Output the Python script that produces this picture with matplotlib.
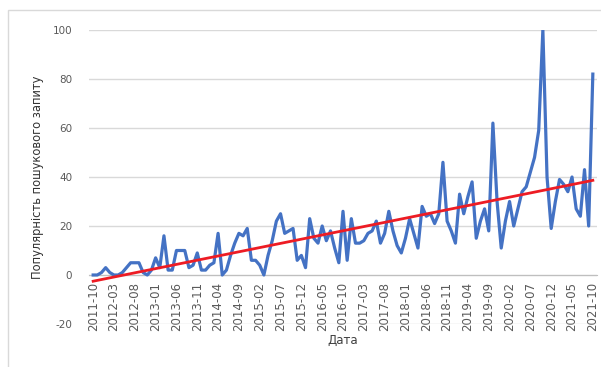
#!/usr/bin/env python3
"""Search popularity by month with a linear trend line (Excel-style line chart)."""

import numpy as np
import pandas as pd
import matplotlib
matplotlib.use("Agg")
import matplotlib.pyplot as plt
from matplotlib.patches import Rectangle

# monthly values, 2011-10 .. 2021-10
months = pd.period_range("2011-10", "2021-10", freq="M").strftime("%Y-%m").tolist()
popularity = [
    0, 0, 1, 3, 1, 0, 0, 1, 3, 5,
    5, 5, 1, 0, 2, 7, 3, 16, 2, 2,
    10, 10, 10, 3, 4, 9, 2, 2, 4, 5,
    17, 0, 2, 8, 13, 17, 16, 19, 6, 6,
    4, 0, 8, 14, 22, 25, 17, 18, 19, 6,
    8, 3, 23, 15, 13, 20, 14, 18, 11, 5,
    26, 6, 23, 13, 13, 14, 17, 18, 22, 13,
    17, 26, 18, 12, 9, 15, 23, 17, 11, 28,
    24, 25, 21, 25, 46, 22, 18, 13, 33, 25,
    32, 38, 15, 22, 27, 18, 62, 30, 11, 22,
    30, 20, 27, 34, 36, 42, 48, 59, 100, 40,
    19, 30, 39, 37, 34, 40, 27, 24, 43, 20,
    82,
]
tick_step = 5
y_ticks = [-20, 0, 20, 40, 60, 80, 100]

x = np.arange(len(popularity))
y = np.array(popularity, dtype=float)
slope, intercept = np.polyfit(x, y, 1)
trend = slope * x + intercept

plt.rcParams['font.family'] = ['DejaVu Sans']
plt.rcParams['axes.unicode_minus'] = False

fig = plt.figure(figsize=(6.01, 3.67), dpi=100)
ax = fig.add_axes([89 / 601, 1 - 324 / 367, 508 / 601, 294 / 367])

# chart-area border
fig.patches.append(Rectangle((8 / 601, -0.02), 1.0, 1 - 10 / 367 + 0.02,
                             transform=fig.transFigure, fill=False,
                             edgecolor='#d9d9d9', linewidth=1.0))

ax.plot(x, y, color='#4472C4', linewidth=2.3, solid_joinstyle='round', zorder=3)
ax.plot(x, trend, color='#ED1C24', linewidth=2.0, zorder=4)

ax.set_xlim(-1, len(popularity))
ax.set_ylim(-20, 100)
ax.set_yticks(y_ticks)
ax.yaxis.grid(True, color='#d9d9d9', linewidth=1.0)
ax.set_axisbelow(True)

for s in ['top', 'right', 'left']:
    ax.spines[s].set_visible(False)
# category axis crosses at zero, labels hang below it
ax.spines['bottom'].set_position(('data', 0))
ax.spines['bottom'].set_color('#bfbfbf')

ticks = x[::tick_step]
ax.set_xticks(ticks)
ax.set_xticklabels([months[i] for i in ticks])
ax.tick_params(axis='x', length=0, pad=5, labelrotation=90, labelsize=8.5,
               labelcolor='#595959')
ax.tick_params(axis='y', length=0, pad=12, labelsize=7.5, labelcolor='#595959')

ax.set_ylabel('Популярність пошукового запиту', fontsize=8.3, color='#333333', labelpad=6)
ax.set_xlabel('Дата', fontsize=8.5, color='#404040', labelpad=2)

plt.savefig('out.png', dpi=100)
